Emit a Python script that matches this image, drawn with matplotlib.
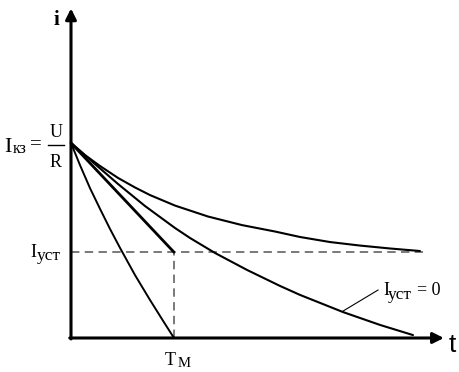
import matplotlib
matplotlib.use('Agg')
from matplotlib import pyplot as plt

# units: t in T_M, i in I_kz = U/R
T_M = 1.0
I_UST = 0.44

# curve that reaches the t axis at T_M
t_steep = [0.0, 0.087, 0.184, 0.282, 0.379, 0.476, 0.621, 0.767, 0.913, 1.0]
i_steep = [1.0, 0.887, 0.769, 0.662, 0.559, 0.462, 0.323, 0.195, 0.072, 0.0]

# straight tangent that reaches I_ust at T_M
t_tangent = [0.0, T_M]
i_tangent = [1.0, I_UST]

# decay with I_ust = 0
t_zero = [0.0, 0.233, 0.456, 0.718, 1.010, 1.155, 1.398, 1.709, 2.029, 2.223, 2.641, 3.000, 3.320]
i_zero = [1.0, 0.892, 0.790, 0.677, 0.564, 0.513, 0.436, 0.349, 0.267, 0.221, 0.133, 0.067, 0.015]

# decay towards I_ust
t_ust = [0.0, 0.136, 0.282, 0.456, 0.621, 0.767, 1.010, 1.330, 1.660, 1.981, 2.223, 2.515, 2.806, 3.097, 3.388]
i_ust = [1.0, 0.938, 0.882, 0.821, 0.772, 0.733, 0.679, 0.623, 0.579, 0.546, 0.518, 0.492, 0.474, 0.459, 0.446]

serif = 'Liberation Serif'
sans = 'Liberation Sans'

fig = plt.figure(figsize=(4.6, 3.72), dpi=100)
ax = fig.add_axes([0, 0, 1, 1])
ax.set_xlim(-0.6893, 3.7767)
ax.set_ylim(-0.1744, 1.7333)
ax.axis('off')

# axes with arrows
arrow = dict(arrowstyle='-|>', lw=2.2, color='k', mutation_scale=16, shrinkA=0, shrinkB=0)
ax.annotate('', xy=(0, 1.69), xytext=(0, -0.005), arrowprops=arrow)
ax.annotate('', xy=(3.62, 0), xytext=(-0.012, 0), arrowprops=arrow)

# dashed guides
dash = dict(color='#555555', lw=1.1, dashes=(5.5, 3.5))
ax.plot([0, 3.417], [I_UST, I_UST], **dash)
ax.plot([T_M, T_M], [0, I_UST], **dash)

# curves
line = dict(color='k', solid_capstyle='round', solid_joinstyle='round')
ax.plot(t_steep, i_steep, lw=1.4, **line)
ax.plot(t_tangent, i_tangent, lw=2.0, **line)
ax.plot(t_zero, i_zero, lw=1.5, **line)
ax.plot(t_ust, i_ust, lw=1.5, **line)

# leader to label
ax.plot([2.641, 2.981], [0.138, 0.246], color='k', lw=0.8)

# axis names
ax.text(-0.165, 1.605, 'i', family=serif, fontweight='bold', fontsize=15, va='baseline')
ax.text(3.670, -0.072, 't', family=sans, fontsize=19, va='baseline')

# I_kz = U/R
ax.text(-0.650, 0.954, 'I', family=serif, fontsize=16, va='baseline')
ax.text(-0.563, 0.949, 'кз', family=serif, fontsize=11.5, va='baseline')
ax.text(-0.340, 0.990, '=', family=serif, fontsize=15, ha='center', va='center')
ax.text(-0.146, 1.031, 'U', family=serif, fontsize=13, ha='center', va='baseline')
ax.plot([-0.223, -0.068], [0.990, 0.990], color='k', lw=1.0)
ax.text(-0.146, 0.877, 'R', family=serif, fontsize=13, ha='center', va='baseline')

# I_ust (left)
ax.text(-0.398, 0.415, 'I', family=serif, fontsize=13, va='baseline')
ax.text(-0.330, 0.400, 'уст', family=serif, fontsize=12.5, va='baseline')

# T_M
ax.text(0.913, -0.138, 'T', family=serif, fontsize=13, va='baseline')
ax.text(1.039, -0.149, 'М', family=serif, fontsize=10.5, va='baseline')

# I_ust = 0 (right)
ax.text(3.029, 0.221, 'I', family=serif, fontsize=13, va='baseline')
ax.text(3.078, 0.200, 'уст', family=serif, fontsize=12.5, va='baseline')
ax.text(3.355, 0.221, '= 0', family=serif, fontsize=13, va='baseline')

fig.savefig('out.png', dpi=100)
